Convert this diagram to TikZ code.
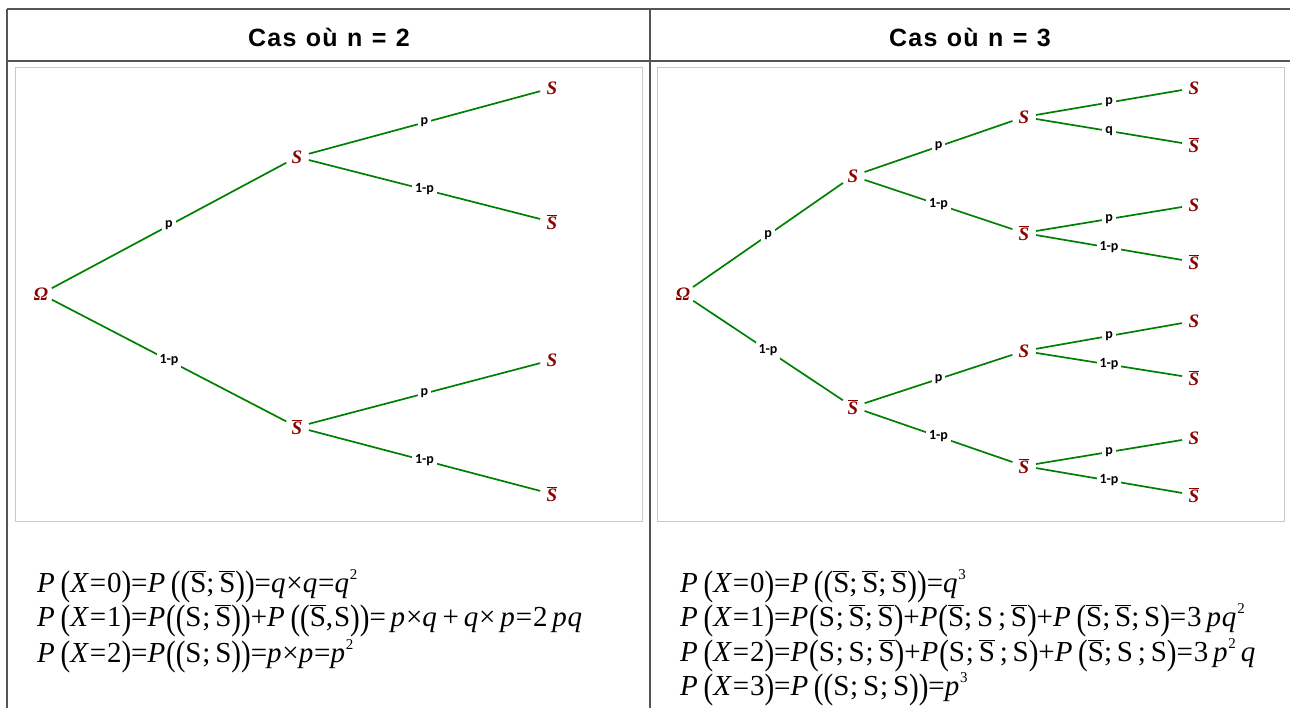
\documentclass[tikz,border=0pt]{standalone}
\usepackage{fontspec}
\setmainfont{Liberation Serif}
\newfontfamily\hdrfont{Liberation Sans}[LetterSpace=5,WordSpace=1.15]
\newfontfamily\lblfont{Carlito}
\newfontfamily\formfont{Liberation Serif}[LetterSpace=3]
\definecolor{nodered}{RGB}{139,0,0}
\definecolor{edgegreen}{RGB}{0,128,0}
\definecolor{tablegray}{RGB}{85,85,85}
\definecolor{boxgray}{RGB}{200,200,200}
\newcommand{\Sn}{\textbf{\textit{S}}}
\newcommand{\Sbar}{$\overline{\mbox{\textbf{\textit{S}}}}$}
\newcommand{\Om}{\textbf{\textit{Ω}}}
\newcommand{\V}[1]{\textit{#1}}
\newcommand{\fS}{S}
\newcommand{\fSb}{$\overline{\mbox{S}}$}
\newcommand{\tp}[1]{\raisebox{-0.12em}{\scalebox{1}[1.22]{#1}}}
\newcommand{\sq}[1]{\raisebox{0.42em}{\fontsize{15}{15}\selectfont #1}}
\tikzset{
  tableline/.style={draw=tablegray, line width=1.5pt},
  treebox/.style={draw=boxgray, line width=1pt},
  st/.style={circle, minimum size=24pt, inner sep=0pt, text=nodered, font=\fontsize{19}{19}\selectfont},
  treeedge/.style={draw=edgegreen, line width=1.7pt},
  lbl/.style={fill=white, inner sep=3pt, font=\lblfont\bfseries\fontsize{14}{14}\selectfont, text=black},
  hdr/.style={font=\hdrfont\bfseries\fontsize{25}{25}\selectfont},
  formula/.style={anchor=base west, inner sep=0pt, font=\formfont\fontsize{29}{29}\selectfont}
}
\begin{document}
\begin{tikzpicture}[x=1pt, y=-1pt]
\useasboundingbox (0,0) rectangle (1290,708);
\fill[white] (0,0) rectangle (1290,708);
% table
\draw[tableline] (7,9) -- (1290,9);
\draw[tableline] (7,61) -- (1290,61);
\draw[tableline] (7,9) -- (7,708);
\draw[tableline] (650,9) -- (650,708);
\node[hdr] (h1) at (329,37) {Cas où n = 2};
\node[hdr] (h2) at (970,37) {Cas où n = 3};
% tree boxes
\draw[treebox] (15,68) rectangle (642,521);
\draw[treebox] (657,68) rectangle (1284,521);
% left tree
\node[st] (L0) at (41,294) {\Om};
\node[st] (L1) at (297,157) {\Sn};
\node[st] (L2) at (297,427) {\Sbar};
\node[st] (L11) at (552,88) {\Sn};
\node[st] (L12) at (552,222) {\Sbar};
\node[st] (L21) at (552,360) {\Sn};
\node[st] (L22) at (552,494) {\Sbar};
\draw[treeedge] (L0) -- node[lbl] {p} (L1);
\draw[treeedge] (L0) -- node[lbl] {1-p} (L2);
\draw[treeedge] (L1) -- node[lbl] {p} (L11);
\draw[treeedge] (L1) -- node[lbl] {1-p} (L12);
\draw[treeedge] (L2) -- node[lbl] {p} (L21);
\draw[treeedge] (L2) -- node[lbl] {1-p} (L22);
% right tree
\node[st] (R0) at (683,294) {\Om};
\node[st] (R1) at (853,176) {\Sn};
\node[st] (R2) at (853,407) {\Sbar};
\node[st] (R11) at (1024,117) {\Sn};
\node[st] (R12) at (1024,233) {\Sbar};
\node[st] (R21) at (1024,351) {\Sn};
\node[st] (R22) at (1024,466) {\Sbar};
\node[st] (R111) at (1194,88) {\Sn};
\node[st] (R112) at (1194,145) {\Sbar};
\node[st] (R121) at (1194,205) {\Sn};
\node[st] (R122) at (1194,262) {\Sbar};
\node[st] (R211) at (1194,321) {\Sn};
\node[st] (R212) at (1194,378) {\Sbar};
\node[st] (R221) at (1194,438) {\Sn};
\node[st] (R222) at (1194,495) {\Sbar};
\draw[treeedge] (R0) -- node[lbl] {p} (R1);
\draw[treeedge] (R0) -- node[lbl] {1-p} (R2);
\draw[treeedge] (R1) -- node[lbl] {p} (R11);
\draw[treeedge] (R1) -- node[lbl] {1-p} (R12);
\draw[treeedge] (R2) -- node[lbl] {p} (R21);
\draw[treeedge] (R2) -- node[lbl] {1-p} (R22);
\draw[treeedge] (R11) -- node[lbl] {p} (R111);
\draw[treeedge] (R11) -- node[lbl] {q} (R112);
\draw[treeedge] (R12) -- node[lbl] {p} (R121);
\draw[treeedge] (R12) -- node[lbl] {1-p} (R122);
\draw[treeedge] (R21) -- node[lbl] {p} (R211);
\draw[treeedge] (R21) -- node[lbl] {1-p} (R212);
\draw[treeedge] (R22) -- node[lbl] {p} (R221);
\draw[treeedge] (R22) -- node[lbl] {1-p} (R222);
% formulas left
\node[formula] (fL1) at (37,592) {\V{P}\,\tp{(}\V{X}=0\tp{)}=\V{P}\,\tp{(}\tp{(}\fSb;\,\fSb\tp{)}\tp{)}=\V{q}×\V{q}=\V{q}\sq{2}};
\node[formula] (fL2) at (37,626) {\V{P}\,\tp{(}\V{X}=1\tp{)}=\V{P}\tp{(}\tp{(}\fS;\,\fSb\tp{)}\tp{)}+\V{P}\,\tp{(}\tp{(}\fSb,\fS\tp{)}\tp{)}=\,\V{p}×\V{q}\,+\,\V{q}×\,\V{p}=2\,\V{pq}};
\node[formula] (fL3) at (37,662) {\V{P}\,\tp{(}\V{X}=2\tp{)}=\V{P}\tp{(}\tp{(}\fS;\,\fS\tp{)}\tp{)}=\V{p}×\V{p}=\V{p}\sq{2}};
% formulas right
\node[formula] (fR1) at (680,592) {\V{P}\,\tp{(}\V{X}=0\tp{)}=\V{P}\,\tp{(}\tp{(}\fSb;\,\fSb;\,\fSb\tp{)}\tp{)}=\V{q}\sq{3}};
\node[formula] (fR2) at (680,626) {\V{P}\,\tp{(}\V{X}=1\tp{)}=\V{P}\tp{(}\fS;\,\fSb;\,\fSb\tp{)}+\V{P}\tp{(}\fSb;\,\fS\,;\,\fSb\tp{)}+\V{P}\,\tp{(}\fSb;\,\fSb;\,\fS\tp{)}=3\,\V{pq}\sq{2}};
\node[formula] (fR3) at (680,661) {\V{P}\,\tp{(}\V{X}=2\tp{)}=\V{P}\tp{(}\fS;\,\fS;\,\fSb\tp{)}+\V{P}\tp{(}\fS;\,\fSb\,;\,\fS\tp{)}+\V{P}\,\tp{(}\fSb;\,\fS\,;\,\fS\tp{)}=3\,\V{p}\sq{2}\,\V{q}};
\node[formula] (fR4) at (680,695) {\V{P}\,\tp{(}\V{X}=3\tp{)}=\V{P}\,\tp{(}\tp{(}\fS;\,\fS;\,\fS\tp{)}\tp{)}=\V{p}\sq{3}};
\end{tikzpicture}
\end{document}
